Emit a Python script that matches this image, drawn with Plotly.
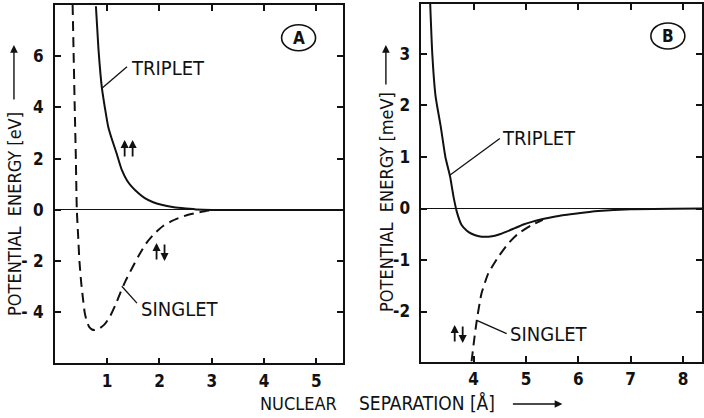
import plotly.graph_objects as go

# ---------------- data ----------------
# Panel A : H2 molecule, energy in eV vs nuclear separation in Angstrom
a_triplet_x = [0.785, 0.835, 0.90, 0.96, 1.02, 1.10, 1.18, 1.28, 1.38, 1.47, 1.60, 1.72, 1.88, 2.04, 2.25, 2.42, 2.70, 3.0, 4.0, 5.5]
a_triplet_y = [7.95, 6.25, 4.75, 3.95, 3.25, 2.7, 2.21, 1.56, 1.15, 0.91, 0.65, 0.46, 0.30, 0.20, 0.11, 0.07, 0.02, 0.0, 0.0, 0.0]

a_singlet_x = [0.34, 0.36, 0.38, 0.40, 0.42, 0.445, 0.47, 0.505, 0.54, 0.57, 0.61, 0.66, 0.71, 0.76, 0.85, 0.95, 1.05, 1.15, 1.25,
               1.35, 1.47, 1.60, 1.75, 1.91, 2.07, 2.23, 2.40, 2.55, 2.72, 2.87, 3.06]
a_singlet_y = [8.0, 6.0, 4.0, 2.2, 0.0, -1.0, -2.0, -2.86, -3.5, -4.0, -4.35, -4.58, -4.67, -4.69, -4.63, -4.47, -4.18, -3.75, -3.25,
               -2.78, -2.30, -1.80, -1.30, -0.91, -0.63, -0.44, -0.29, -0.19, -0.11, -0.05, 0.0]

# Panel B : He2, energy in meV vs nuclear separation in Angstrom
b_triplet_x = [3.17, 3.21, 3.27, 3.30, 3.37, 3.46, 3.55, 3.615, 3.68, 3.77, 3.87, 3.96, 4.10, 4.22, 4.35, 4.47, 4.63, 4.79, 4.95,
               5.11, 5.30, 5.49, 5.70, 5.93, 6.38, 7.0, 8.4]
b_triplet_y = [3.97, 3.0, 2.2, 2.0, 1.6, 1.0, 0.62, 0.23, -0.07, -0.32, -0.43, -0.49, -0.54, -0.55, -0.54, -0.51, -0.45, -0.38, -0.31,
               -0.26, -0.21, -0.17, -0.13, -0.10, -0.05, -0.015, 0.0]

b_singlet_x = [3.96, 4.01, 4.06, 4.15, 4.28, 4.47, 4.66, 4.85, 5.11, 5.32]
b_singlet_y = [-2.97, -2.55, -2.17, -1.65, -1.26, -0.94, -0.68, -0.49, -0.32, -0.22]

a_xticks = [1, 2, 3, 4, 5]
a_yticks = [-4, -2, 0, 2, 4, 6]
a_yticklabels = ["- 4", "- 2", "0", "2", "4", "6"]
b_xticks = [4, 5, 6, 7, 8]
b_yticks = [-2, -1, 0, 1, 2, 3]
b_yticklabels = ["-2", "-1", "0", "1", "2", "3"]

# ---------------- figure ----------------
W, H = 704, 418
LABEL_FONT = "DejaVu Sans Condensed, DejaVu Sans, sans-serif"
BLACK = "#111111"

fig = go.Figure()

def curve(x, y, xa, ya, dash=None):
    fig.add_trace(go.Scatter(x=x, y=y, mode="lines", xaxis=xa, yaxis=ya, hoverinfo="skip",
                             line=dict(color=BLACK, width=2, dash=dash, shape="spline", smoothing=0.5)))

curve(a_triplet_x, a_triplet_y, "x", "y")
curve(a_singlet_x, a_singlet_y, "x", "y", dash="10px,6px")
curve(b_triplet_x, b_triplet_y, "x2", "y2")
curve(b_singlet_x, b_singlet_y, "x2", "y2", dash="10px,6px")

tickfont = dict(family=LABEL_FONT, size=17, color=BLACK)
axis_common = dict(showline=True, linecolor=BLACK, linewidth=1.6, mirror="ticks", ticks="inside", ticklen=6,
                   tickwidth=1.5, tickcolor=BLACK, showgrid=False, tickfont=tickfont)

def bold(labels):
    return ["<b>%s</b>" % s for s in labels]

fig.update_layout(
    width=W, height=H, margin=dict(l=0, r=0, t=0, b=0),
    paper_bgcolor="white", plot_bgcolor="white", showlegend=False,
    xaxis=dict(domain=[55 / W, 343.5 / W], range=[0, 5.5], tickvals=a_xticks, ticktext=bold([str(v) for v in a_xticks]),
               zeroline=False, anchor="y", ticklabelstandoff=1, **axis_common),
    yaxis=dict(domain=[1 - 363.3 / H, 1 - 5 / H], range=[-5.99, 8.0], tickvals=a_yticks, ticktext=bold(a_yticklabels),
               zeroline=True, zerolinecolor=BLACK, zerolinewidth=1.4, anchor="x", ticklabelstandoff=6, **axis_common),
    xaxis2=dict(domain=[422.5 / W, 1.0], range=[3, 3 + (W - 422.5) / 52.5], tickvals=b_xticks, ticktext=bold([str(v) for v in b_xticks]),
                zeroline=False, anchor="y2", ticklabelstandoff=1, **axis_common),
    yaxis2=dict(domain=[1 - 361.5 / H, 1 - 4 / H], range=[-2.97, 3.97], tickvals=b_yticks, ticktext=bold(b_yticklabels),
                zeroline=True, zerolinecolor=BLACK, zerolinewidth=1.4, anchor="x2", ticklabelstandoff=6, **axis_common),
)

def px(xp, yp):
    return xp / W, 1 - yp / H

annotations = []
def text(x, y, s, xref, yref, size=20, xanchor="left", angle=0):
    annotations.append(dict(x=x, y=y, xref=xref, yref=yref, text=s, showarrow=False, xanchor=xanchor, yanchor="middle",
                            textangle=angle, font=dict(family=LABEL_FONT, size=size, color=BLACK)))

def arrow(hx, hy, tx, ty, width=1.4, size=1.1):
    ax_, ay_ = px(hx, hy)
    annotations.append(dict(x=ax_, y=ay_, xref="paper", yref="paper", text="", showarrow=True,
                            ax=tx - hx, ay=ty - hy, axref="pixel", ayref="pixel", standoff=0,
                            arrowhead=2, arrowsize=size, arrowwidth=width, arrowcolor=BLACK))

# curve labels
text(1.42, 5.55, "TRIPLET", "x", "y")
text(1.60, -3.88, "SINGLET", "x", "y")
text(4.50, 1.36, "TRIPLET", "x2", "y2")
text(4.66, -2.43, "SINGLET", "x2", "y2")
# panel letters
text(4.66, 6.72, "<b>A</b>", "x", "y", size=17, xanchor="center")
text(7.71, 3.35, "<b>B</b>", "x2", "y2", size=17, xanchor="center")

# spin arrows (pixel positions of head and tail)
arrow(125, 140, 125, 158, width=1.8, size=0.9)
arrow(133, 140, 133, 158, width=1.8, size=0.9)
arrow(157, 243, 157, 261, width=1.8, size=0.9)
arrow(165, 261, 165, 243, width=1.8, size=0.9)
arrow(456, 325, 456, 343, width=1.8, size=0.9)
arrow(464, 343, 464, 325, width=1.8, size=0.9)

# axis titles
x0, y0 = px(14, 214)
text(x0, y0, "POTENTIAL  ENERGY [eV]", "paper", "paper", size=18, xanchor="center", angle=-90)
x0, y0 = px(387, 202)
text(x0, y0, "POTENTIAL  ENERGY [meV]", "paper", "paper", size=18, xanchor="center", angle=-90)
x0, y0 = px(259, 403)
text(x0, y0, "NUCLEAR", "paper", "paper", size=18, xanchor="left")
x0, y0 = px(358, 403)
text(x0, y0, "SEPARATION [Å]", "paper", "paper", size=19, xanchor="left")

# title arrows
arrow(14, 45, 14, 101)
arrow(387, 45, 387, 86)
arrow(564, 404, 513, 404)

fig.update_layout(annotations=annotations)

# pointer lines and circles
shapes = [
    dict(type="line", xref="x", yref="y", x0=0.90, y0=4.75, x1=1.38, y1=5.59, line=dict(color=BLACK, width=1.3)),
    dict(type="line", xref="x", yref="y", x0=1.28, y0=-2.98, x1=1.57, y1=-3.64, line=dict(color=BLACK, width=1.3)),
    dict(type="line", xref="x2", yref="y2", x0=3.55, y0=0.65, x1=4.50, y1=1.36, line=dict(color=BLACK, width=1.3)),
    dict(type="line", xref="x2", yref="y2", x0=4.06, y0=-2.17, x1=4.63, y1=-2.43, line=dict(color=BLACK, width=1.3)),
    dict(type="circle", xref="x", yref="y", xsizemode="pixel", ysizemode="pixel", xanchor=4.66, yanchor=6.72,
         x0=-17, x1=17, y0=-13, y1=13, line=dict(color=BLACK, width=1.6)),
    dict(type="circle", xref="x2", yref="y2", xsizemode="pixel", ysizemode="pixel", xanchor=7.71, yanchor=3.35,
         x0=-17, x1=17, y0=-13, y1=13, line=dict(color=BLACK, width=1.6)),
]
fig.update_layout(shapes=shapes)

fig.write_html("out.html")
